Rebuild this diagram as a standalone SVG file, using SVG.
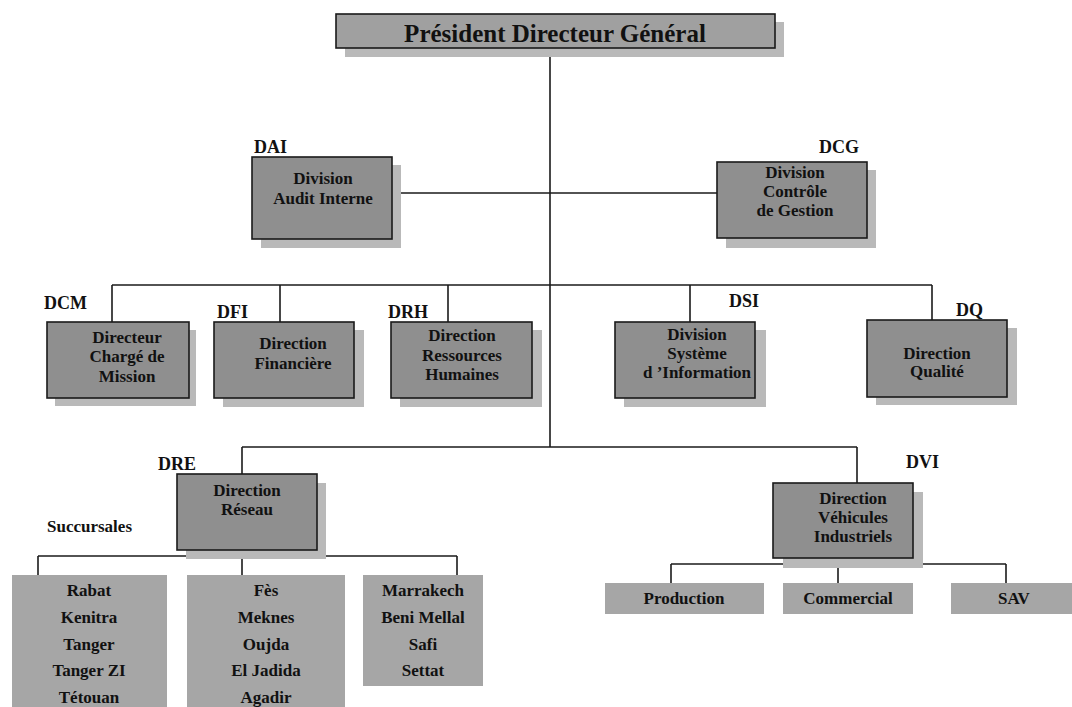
<svg xmlns="http://www.w3.org/2000/svg" width="1072" height="707" viewBox="0 0 1072 707">
<style>
text{font-family:"Liberation Serif","Times New Roman",serif;font-weight:bold;fill:#111}
.t{font-size:17px;text-anchor:middle}
.lbl{font-size:18px}
.box{fill:#8f8f8f;stroke:#1a1a1a;stroke-width:1.6}
.sh{fill:#b9b9b9}
.flat{fill:#a6a6a6}
.con line{stroke:#1a1a1a;stroke-width:1.6}
</style>
<rect width="1072" height="707" fill="#ffffff"/>
<g class="con">
<line x1="550" y1="48" x2="550" y2="447"/>
<line x1="392" y1="193" x2="717" y2="193"/>
<line x1="112" y1="285" x2="932" y2="285"/>
<line x1="112" y1="285" x2="112" y2="322"/>
<line x1="280" y1="285" x2="280" y2="322"/>
<line x1="448" y1="285" x2="448" y2="322"/>
<line x1="690" y1="285" x2="690" y2="322"/>
<line x1="932" y1="285" x2="932" y2="320"/>
<line x1="242" y1="447" x2="857" y2="447"/>
<line x1="242" y1="447" x2="242" y2="474"/>
<line x1="857" y1="447" x2="857" y2="483"/>
<line x1="38" y1="556" x2="457" y2="556"/>
<line x1="38" y1="556" x2="38" y2="575"/>
<line x1="242" y1="550" x2="242" y2="575"/>
<line x1="457" y1="556" x2="457" y2="575"/>
<line x1="671" y1="564" x2="1006" y2="564"/>
<line x1="671" y1="564" x2="671" y2="583"/>
<line x1="838" y1="558" x2="838" y2="583"/>
<line x1="1006" y1="564" x2="1006" y2="583"/>
</g>
<g id="pdg">
<rect class="sh" x="345" y="22" width="439" height="35"/>
<rect class="box" x="336" y="14" width="439" height="34" style="fill:#a0a0a0"/>
<text x="555" y="42" style="font-size:25px;text-anchor:middle">Président Directeur Général</text>
</g>
<g id="dai">
<text class="lbl" x="254" y="153">DAI</text>
<rect class="sh" x="261" y="165" width="140" height="83"/>
<rect class="box" x="252" y="157" width="140" height="82"/>
<text class="t" x="323" y="184">Division</text>
<text class="t" x="323" y="204">Audit Interne</text>
</g>
<g id="dcg">
<text class="lbl" x="819" y="153">DCG</text>
<rect class="sh" x="726" y="170" width="150" height="78"/>
<rect class="box" x="717" y="162" width="150" height="76"/>
<text class="t" x="795" y="178">Division</text>
<text class="t" x="795" y="197">Contrôle</text>
<text class="t" x="795" y="216">de Gestion</text>
</g>
<g id="dcm">
<text class="lbl" x="44" y="309">DCM</text>
<rect class="sh" x="55" y="330" width="141" height="76"/>
<rect class="box" x="47" y="322" width="142" height="76"/>
<text class="t" x="127" y="343">Directeur</text>
<text class="t" x="127" y="362">Chargé de</text>
<text class="t" x="127" y="382">Mission</text>
</g>
<g id="dfi">
<text class="lbl" x="217" y="318">DFI</text>
<rect class="sh" x="223" y="330" width="141" height="77"/>
<rect class="box" x="214" y="322" width="140" height="76"/>
<text class="t" x="293" y="349">Direction</text>
<text class="t" x="293" y="369">Financière</text>
</g>
<g id="drh">
<text class="lbl" x="388" y="318">DRH</text>
<rect class="sh" x="400" y="330" width="142" height="77"/>
<rect class="box" x="391" y="322" width="141" height="76"/>
<text class="t" x="462" y="341">Direction</text>
<text class="t" x="462" y="361">Ressources</text>
<text class="t" x="462" y="380">Humaines</text>
</g>
<g id="dsi">
<text class="lbl" x="729" y="307">DSI</text>
<rect class="sh" x="624" y="330" width="142" height="77"/>
<rect class="box" x="615" y="322" width="140" height="76"/>
<text class="t" x="697" y="340">Division</text>
<text class="t" x="697" y="359">Système</text>
<text class="t" x="697" y="378">d ’Information</text>
</g>
<g id="dq">
<text class="lbl" x="956" y="316">DQ</text>
<rect class="sh" x="876" y="328" width="141" height="77"/>
<rect class="box" x="867" y="320" width="140" height="77"/>
<text class="t" x="937" y="359">Direction</text>
<text class="t" x="937" y="377">Qualité</text>
</g>
<g id="dre">
<text class="lbl" x="158" y="470">DRE</text>
<rect class="sh" x="186" y="483" width="140" height="76"/>
<rect class="box" x="177" y="474" width="140" height="76"/>
<text class="t" x="247" y="496">Direction</text>
<text class="t" x="247" y="515">Réseau</text>
</g>
<g id="succursales-label">
<text class="lbl" x="47" y="532" style="font-size:17px">Succursales</text>
</g>
<g id="succ1">
<rect class="flat" x="12" y="575" width="155" height="135"/>
<text class="t" x="89" y="596">Rabat</text>
<text class="t" x="89" y="623">Kenitra</text>
<text class="t" x="89" y="650">Tanger</text>
<text class="t" x="89" y="676">Tanger ZI</text>
<text class="t" x="89" y="703">Tétouan</text>
</g>
<g id="succ2">
<rect class="flat" x="187" y="575" width="158" height="135"/>
<text class="t" x="266" y="596">Fès</text>
<text class="t" x="266" y="623">Meknes</text>
<text class="t" x="266" y="650">Oujda</text>
<text class="t" x="266" y="676">El Jadida</text>
<text class="t" x="266" y="703">Agadir</text>
</g>
<g id="succ3">
<rect class="flat" x="363" y="575" width="120" height="111"/>
<text class="t" x="423" y="596">Marrakech</text>
<text class="t" x="423" y="623">Beni Mellal</text>
<text class="t" x="423" y="650">Safi</text>
<text class="t" x="423" y="676">Settat</text>
</g>
<g id="dvi">
<text class="lbl" x="906" y="468">DVI</text>
<rect class="sh" x="783" y="492" width="140" height="76"/>
<rect class="box" x="773" y="483" width="140" height="75"/>
<text class="t" x="853" y="504">Direction</text>
<text class="t" x="853" y="523">Véhicules</text>
<text class="t" x="853" y="542">Industriels</text>
</g>
<g id="production">
<rect class="flat" x="605" y="583" width="159" height="31"/>
<text class="t" x="684" y="604">Production</text>
</g>
<g id="commercial">
<rect class="flat" x="783" y="583" width="130" height="31"/>
<text class="t" x="848" y="604">Commercial</text>
</g>
<g id="sav">
<rect class="flat" x="951" y="583" width="125" height="31"/>
<text class="t" x="1014" y="604">SAV</text>
</g>
</svg>
